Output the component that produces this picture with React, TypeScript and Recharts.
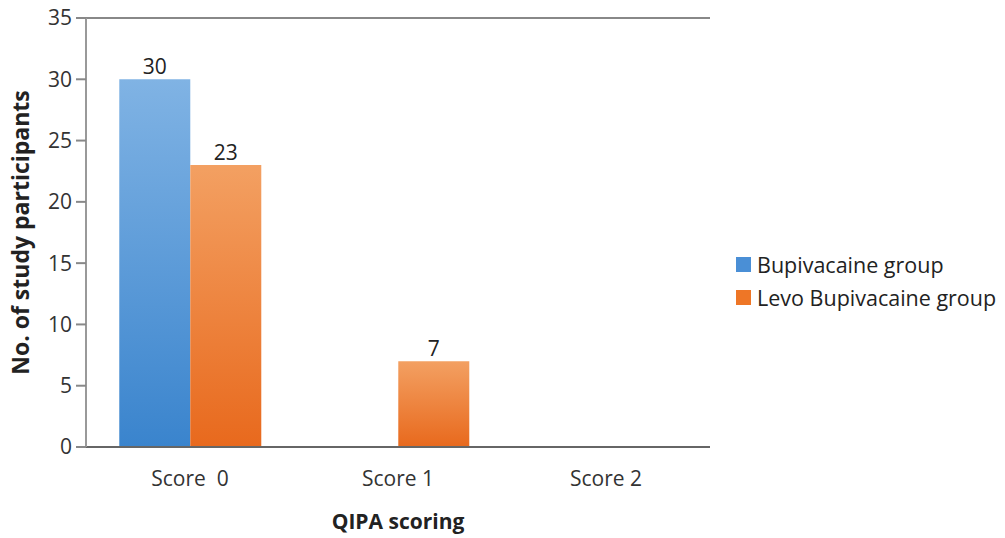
import React from "react";
import {
  Bar,
  BarChart,
  CartesianGrid,
  LabelList,
  XAxis,
  YAxis,
} from "recharts";

const categories = ["Score  0", "Score 1", "Score 2"];
const bupivacaine = [30, 0, 0];
const levoBupivacaine = [23, 7, 0];
const yTicks = [0, 5, 10, 15, 20, 25, 30, 35];

const seriesNames = ["Bupivacaine group", "Levo Bupivacaine group"];
const seriesColors = ["#4a8fd6", "#ee7626"];

const data = categories.map((name, i) => ({
  name,
  bup: bupivacaine[i],
  levo: levoBupivacaine[i],
}));

const FONT = "'Open Sans', sans-serif";

function CategoryTick({ x, y, payload }: any) {
  return (
    <text
      x={x}
      y={y + 31}
      textAnchor="middle"
      fill="#333"
      fontSize={21}
      fontFamily={FONT}
      style={{ whiteSpace: "pre" }}
    >
      {payload.value}
    </text>
  );
}

// legend sits to the right of the plot, outside the chart layout
function LegendBox() {
  return (
    <div
      style={{
        position: "absolute",
        left: 736,
        top: 248,
        fontFamily: FONT,
        fontSize: 21.5,
        color: "#222",
        lineHeight: "33px",
      }}
    >
      {seriesNames.map((n, i) => (
        <div key={n} style={{ display: "flex", alignItems: "center", whiteSpace: "nowrap" }}>
          <span
            style={{
              width: 15,
              height: 15,
              background: seriesColors[i],
              marginRight: 6,
              display: "inline-block",
            }}
          />
          {n}
        </div>
      ))}
    </div>
  );
}

const hideZero = (v: any) => (v ? v : "");

export default function App() {
  return (
    <div
      style={{
        position: "absolute",
        left: 0,
        top: 0,
        width: 1005,
        height: 538,
        background: "#fff",
      }}
    >
      <BarChart
        width={1005}
        height={538}
        data={data}
        margin={{ top: 18, right: 295, bottom: 51, left: 0 }}
        barCategoryGap="16%"
        barGap={0}
      >
        <defs>
          <linearGradient id="bupFill" x1="0" y1="0" x2="0" y2="1">
            <stop offset="0%" stopColor="#80b3e4" />
            <stop offset="100%" stopColor="#3a84cd" />
          </linearGradient>
          <linearGradient id="levoFill" x1="0" y1="0" x2="0" y2="1">
            <stop offset="0%" stopColor="#f3a062" />
            <stop offset="100%" stopColor="#e8691d" />
          </linearGradient>
        </defs>
        <CartesianGrid vertical={false} stroke="#888" strokeWidth={2} />
        <XAxis
          dataKey="name"
          height={40}
          tick={<CategoryTick />}
          tickLine={false}
          axisLine={{ stroke: "#666", strokeWidth: 2 }}
          label={{
            value: "QIPA scoring",
            position: "insideBottom",
            offset: -42,
            fill: "#222",
            fontSize: 21,
            fontWeight: 700,
            fontFamily: FONT,
          }}
        />
        <YAxis
          yAxisId="left"
          domain={[0, 35]}
          ticks={yTicks}
          width={86}
          tick={{ fill: "#333", fontSize: 21, fontFamily: FONT }}
          tickLine={{ stroke: "#888", strokeWidth: 2 }}
          tickSize={10}
          tickMargin={4}
          axisLine={{ stroke: "#999", strokeWidth: 2 }}
          label={{
            value: "No. of study participants",
            angle: -90,
            position: "insideLeft",
            offset: 21,
            style: { textAnchor: "middle" },
            fill: "#222",
            fontSize: 23,
            fontWeight: 700,
            fontFamily: FONT,
          }}
        />
        <YAxis
          yAxisId="right"
          orientation="right"
          domain={[0, 35]}
          width={0}
          tick={false}
          tickLine={false}
          axisLine={{ stroke: "#ccc", strokeWidth: 2 }}
        />
        <Bar
          yAxisId="left"
          dataKey="bup"
          name={seriesNames[0]}
          fill="url(#bupFill)"
          isAnimationActive={false}
        >
          <LabelList
            dataKey="bup"
            position="top"
            formatter={hideZero}
            fill="#222"
            fontSize={21}
            fontFamily={FONT}
          />
        </Bar>
        <Bar
          yAxisId="left"
          dataKey="levo"
          name={seriesNames[1]}
          fill="url(#levoFill)"
          isAnimationActive={false}
        >
          <LabelList
            dataKey="levo"
            position="top"
            formatter={hideZero}
            fill="#222"
            fontSize={21}
            fontFamily={FONT}
          />
        </Bar>
      </BarChart>
      <LegendBox />
    </div>
  );
}
